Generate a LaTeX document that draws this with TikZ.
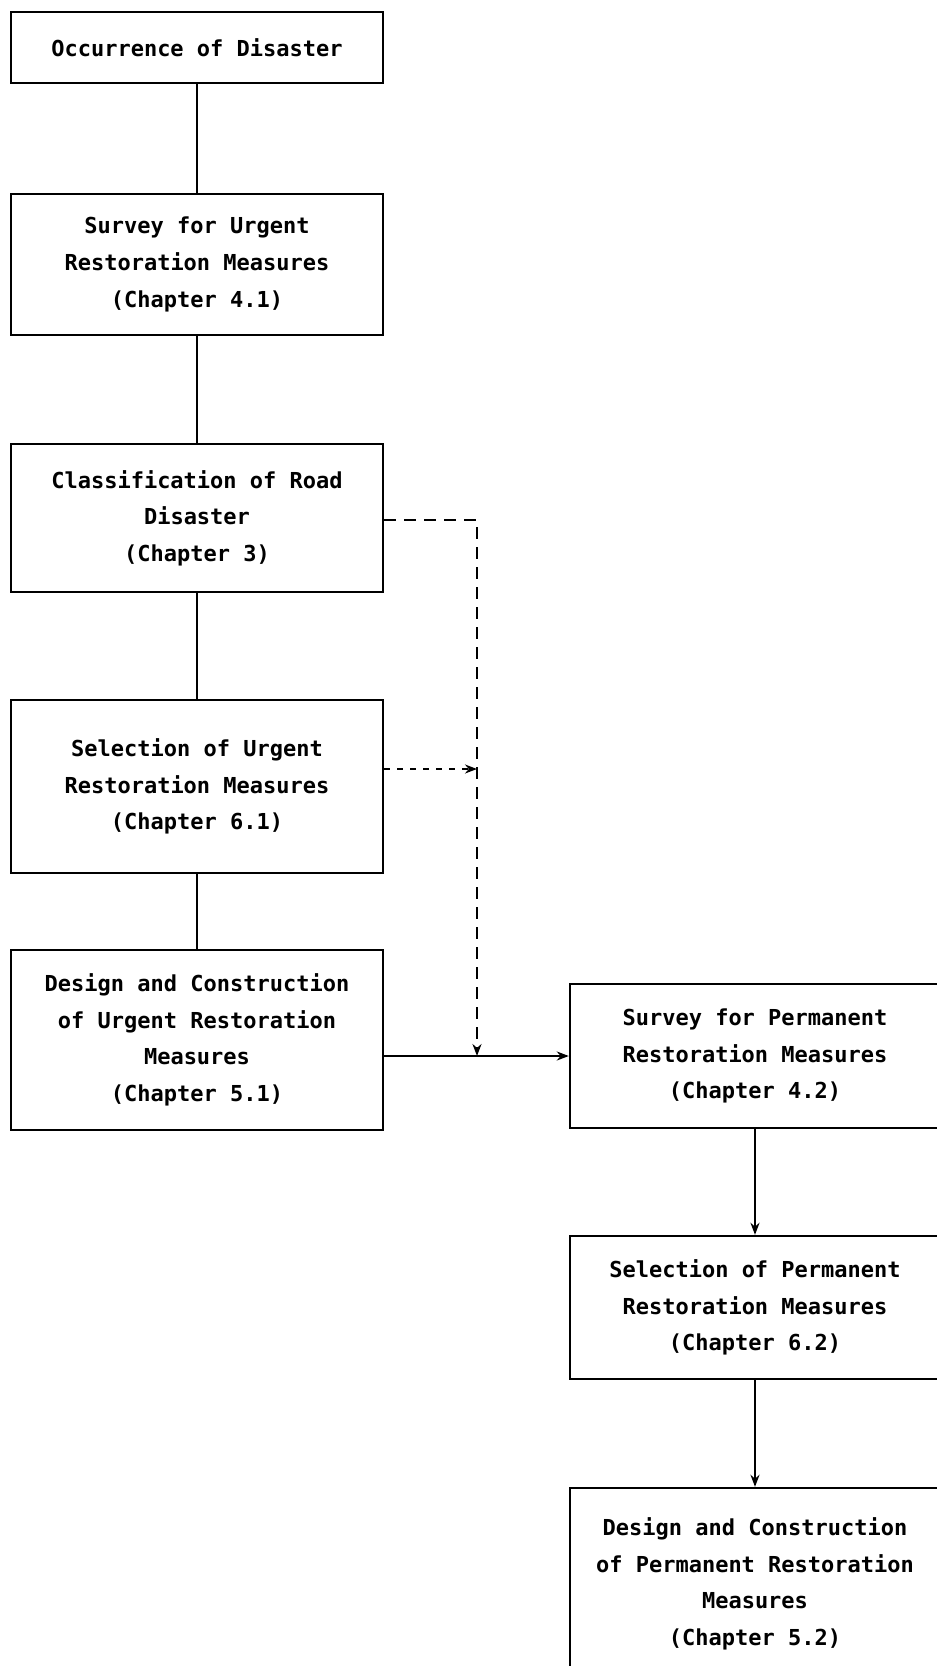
\documentclass[tikz,border=0pt]{standalone}
\usepackage{fontspec}
\setmonofont{DejaVu Sans Mono}
\usetikzlibrary{arrows.meta}
\begin{document}
\begin{tikzpicture}[x=0.5pt,y=-0.5pt,
  box/.style={draw, line width=1.2pt, inner sep=0pt, align=center, anchor=center,
    font=\ttfamily\bfseries\fontsize{11}{18.3}\selectfont},
  lbox/.style={box, minimum width=186pt},
  rbox/.style={box, minimum width=185pt},
  link/.style={line width=1.2pt},
  arr/.style={line width=1.2pt, -{Stealth[length=6pt,width=4.5pt]}},
  dashlink/.style={line width=1.3pt, dash pattern=on 6pt off 4pt},
  dotlink/.style={line width=1.3pt, dash pattern=on 3pt off 3.5pt},
]
\useasboundingbox (0,0) rectangle (937,1666);
\clip (0,0) rectangle (937,1666);
% left column
\node[lbox, minimum height=35.5pt] (b1) at (197,47.5) {Occurrence of Disaster};
\node[lbox, minimum height=70.5pt] (b2) at (197,264.5) {Survey for Urgent\\Restoration Measures\\(Chapter 4.1)};
\node[lbox, minimum height=74pt] (b3) at (197,518) {Classification of Road\\Disaster\\(Chapter 3)};
\node[lbox, minimum height=86.5pt] (b4) at (197,786.5) {Selection of Urgent\\Restoration Measures\\(Chapter 6.1)};
\node[lbox, minimum height=90pt] (b5) at (197,1040) {Design and Construction\\of Urgent Restoration\\Measures\\(Chapter 5.1)};
% right column
\node[rbox, minimum height=72pt] (b6) at (755,1056) {Survey for Permanent\\Restoration Measures\\(Chapter 4.2)};
\node[rbox, minimum height=71.5pt] (b7) at (755,1307.5) {Selection of Permanent\\Restoration Measures\\(Chapter 6.2)};
\node[rbox, minimum height=96pt] (b8) at (755,1584) {Design and Construction\\of Permanent Restoration\\Measures\\(Chapter 5.2)};
% solid links in left column
\draw[link] (b1) -- (b2);
\draw[link] (b2) -- (b3);
\draw[link] (b3) -- (b4);
\draw[link] (b4) -- (b5);
% junction coordinates
\coordinate (c3) at (477,520);
\coordinate (c4) at (477,769);
\coordinate (j) at (477,1056);
% horizontal arrow to permanent survey
\draw[arr] (b5.east |- b6.west) -- (b6.west);
% dashed and dotted feeds
\draw[dashlink, -{Stealth[length=6pt,width=4.5pt]}] (b3.east |- c3) -- (c3) -- (j);
\draw[dotlink, -{Stealth[length=6pt,width=4.5pt]}] (b4.east |- c4) -- (c4);
% right column arrows
\draw[arr] (b6) -- (b7);
\draw[arr] (b7) -- (b8);
\end{tikzpicture}
\end{document}
